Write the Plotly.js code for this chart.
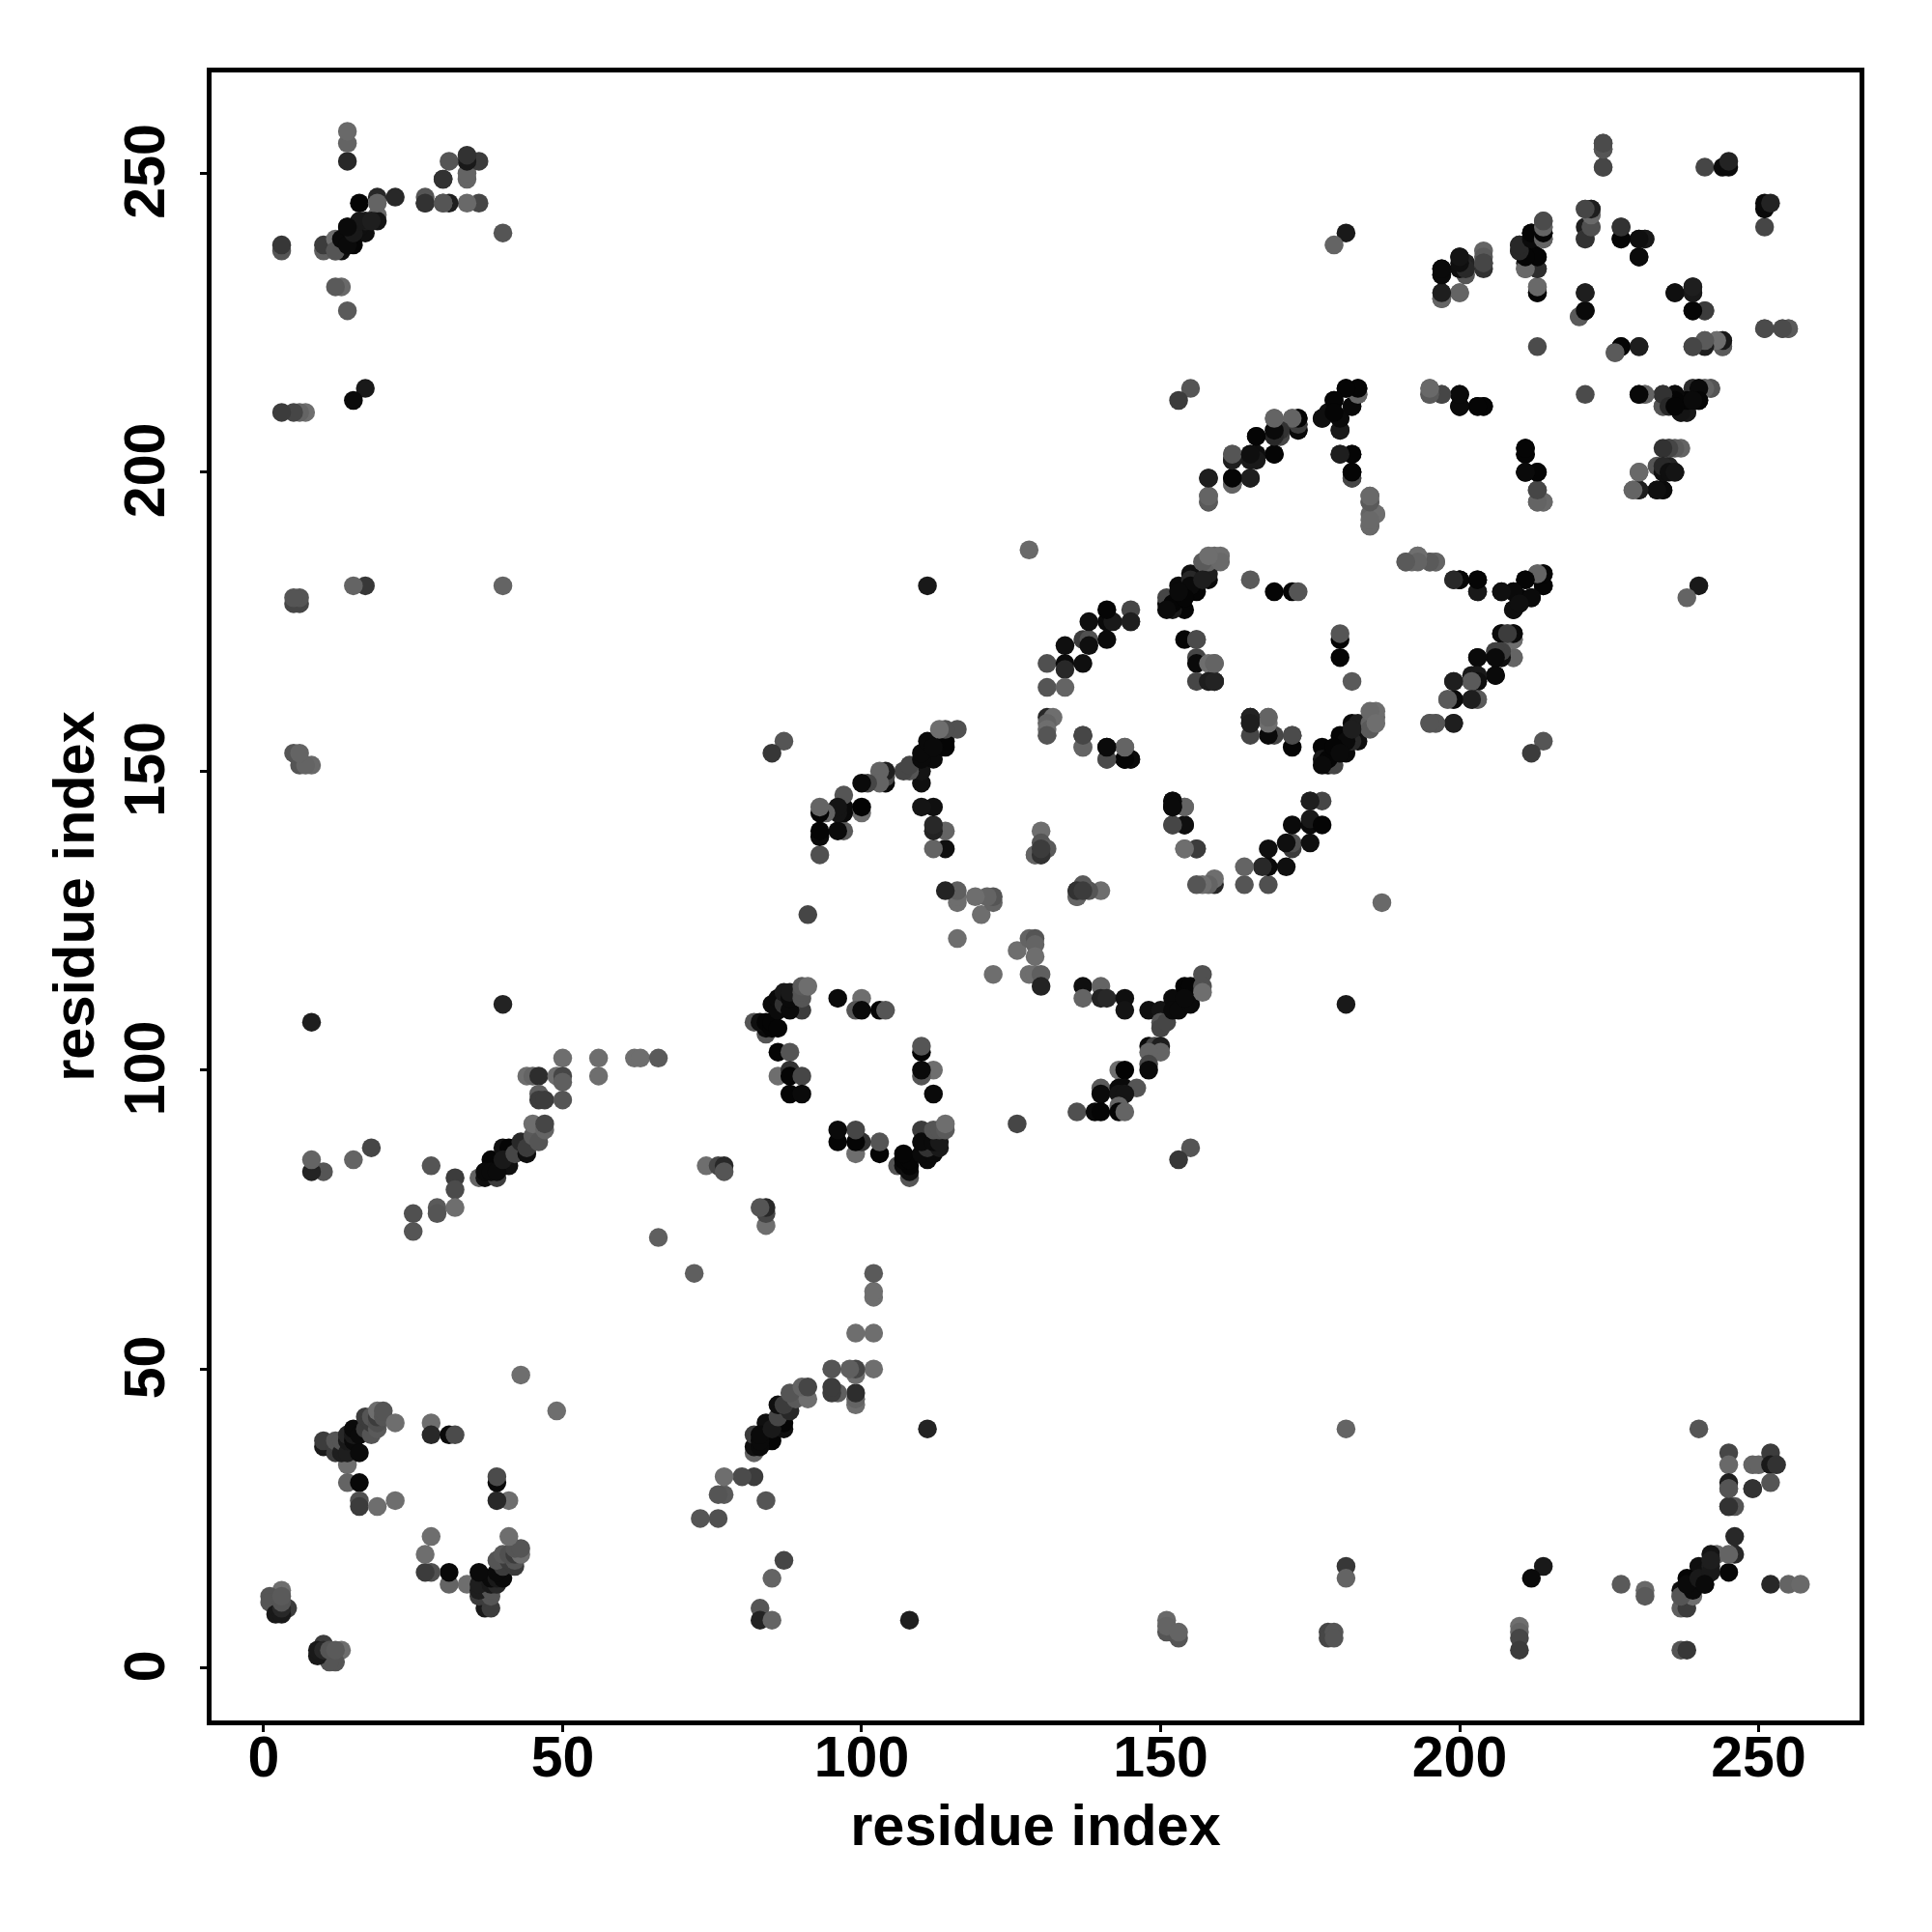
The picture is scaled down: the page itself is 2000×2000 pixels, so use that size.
<!DOCTYPE html>
<html>
<head>
<meta charset="utf-8">
<script src="https://cdn.plot.ly/plotly-3.0.1.min.js"></script>
<style>html,body{margin:0;padding:0;background:#fff}#chart{width:2000px;height:2000px}</style>
</head>
<body>
<div id="chart"></div>
<script>
// Contacts: residue i, residue j (i<j), grey level. The map is symmetric.
const aI=[3,1,1,4,2,3,3,3,3];
const aJ=[13,12,11,10,9,9,10,11,12];
const aG=[110,85,85,60,25,25,40,85,90];

const bI=[14,14,10,10,12,12,12,13,13,14,14,14,15,15,15,16,16,17,17,18,18,18,19,19,19,19,20,20,22,16,16,16,19,22,28,28,31,32,43];
const bJ=[34,31,37,38,36,37,38,36,38,36,38,39,38,39,40,36,39,40,42,39,41,42,40,41,42,43,42,43,41,31,28,27,27,28,41,39,39,39,49];
const bG=[110,100,25,60,60,60,85,30,85,30,25,40,10,25,10,10,10,60,60,85,60,85,90,80,60,110,85,85,110,8,80,60,110,110,110,40,10,75,110];

const cI=[40,28,32,32,29,29,32,25,25,36,37,39,38,40,41,41,37,38,39,40,42,43,44,44,45,46,45,47,47];
const cJ=[111,84,82,80,77,76,77,76,73,82,82,82,85,87,84,87,83,83,83,85,86,88,86,87,89,88,91,90,91];
const cG=[35,85,60,75,90,85,110,80,85,100,15,60,5,15,15,5,10,10,10,25,70,40,15,60,90,85,110,100,70];

const dI=[50,44,45,46,49,50,50,46,46,47,50,56,56,62,63,66,66,74,76,77,77,18,15,10,8,8,8];
const dJ=[102,99,99,99,99,99,98,96,95,95,95,102,99,102,102,102,72,84,84,84,83,87,85,83,83,85,108];
const dG=[110,110,100,45,110,70,95,95,60,60,85,110,110,110,110,90,95,110,70,40,85,70,100,85,35,100,30];

const eI=[82,84,90,84,83,84,85,85,85,86,86,86,87,87,88,88,88,90,90,90,91,86,88,86,88,88,90,88,90,96,100,99,100,103,104];
const eJ=[108,106,110,107,108,108,107,108,111,107,110,112,111,113,110,112,113,112,113,114,114,103,103,99,100,99,99,96,96,112,112,110,110,110,110];
const eG=[85,85,60,10,15,5,5,5,10,5,10,10,50,25,10,10,25,85,85,90,110,5,85,110,50,5,70,5,10,10,110,85,10,5,85];

const fI=[91,116,120,116,116,116,114,122,122,121,119];
const fJ=[126,122,126,128,129,130,130,128,129,129,129];
const fG=[70,110,110,110,110,95,35,100,85,100,110];

const gI=[114,114,112,112,112,112,110,110,110,108,107,108,112,110,114,114,110,111,116,114,113,112,104,104,104,103,103,101,100,100,100,97,96,97,97,97,96,96,93,93,93,94,93,93,87,85];
const gJ=[137,140,137,140,141,144,144,148,150,150,150,151,152,152,154,155,153,155,157,157,157,154,148,149,150,150,148,148,148,143,144,140,140,143,144,146,143,144,136,139,140,143,143,144,155,153];
const gG=[15,100,100,35,40,15,20,15,20,85,70,70,10,10,5,5,10,10,80,80,110,10,10,70,30,100,100,70,10,110,3,90,10,10,10,85,20,20,80,10,5,100,5,100,85,55];

const hI=[134,131,134,134,137,131,134,137,138,138,141,138,141,142,145,131,132,131,131,131,137,137,141,144,141,144,145,145,141];
const hJ=[171,168,168,167,168,164,164,172,172,171,172,175,175,175,175,159,159,158,157,156,156,154,154,154,152,152,152,177,177];
const hG=[15,80,10,40,15,85,100,60,80,15,10,15,10,25,40,40,110,100,110,85,60,110,15,100,70,10,10,70,5];

const kI=[154,156,156,156,158,159,156,158,159,159,158,154,152,151,151,156,158,158,155,153,155,153,158,159,160,157,152,155,157,154,151,153,160,158,165,169,172,173];
const kJ=[172,172,169,168,168,168,165,165,165,165,165,177,177,178,179,180,182,183,183,181,182,179,185,186,186,185,178,181,182,179,177,180,185,186,182,180,180,180];
const kG=[5,75,70,10,110,100,70,40,40,35,30,5,25,10,70,5,10,30,15,10,40,5,100,105,110,90,5,10,30,5,10,10,105,110,90,5,5,85];

const mI=[144,152,152,154,152,154,154,156,145,130,130,129,130,131,129,130,130,128,165,168,172];
const mJ=[152,145,144,144,141,141,137,137,175,140,138,136,136,137,136,136,137,187,159,159,156];
const mG=[10,10,5,100,75,10,100,70,30,110,85,100,40,90,100,50,60,105,35,100,75];

const nI=[155,153,169,172,173,173,173,169,170,170,169,166,169,166,165,165,162,162,162,162,165,158,158,158];
const nJ=[214,212,209,209,209,207,208,207,207,206,206,206,203,203,203,202,203,202,199,198,199,199,196,195];
const nG=[85,60,100,110,10,10,60,15,65,65,10,10,10,25,15,90,90,30,10,90,30,30,85,85];

const pI=[181,183,183,182,179,180,177,178,180,180,182,182,182,185,185,186,185,185,191,193,192,195,196,195,195,197,200,200,203,204,200,199];
const pJ=[214,214,213,211,212,209,209,210,207,203,203,200,199,196,195,193,193,191,185,186,185,185,185,214,213,213,213,211,211,211,182,182];
const pG=[5,5,100,5,10,10,15,15,15,25,5,5,40,100,90,110,100,90,105,110,105,90,105,105,100,70,5,10,5,5,5,70];

const qI=[200,203,203,207,209,211,213,214,214,209,212,210,207,208,209,209,203,206,207,206,207,209,199,198,199,202,203,202,202,203,206,203,195,196,199,211,211,200,211,213,213,213];
const qJ=[182,182,180,180,180,182,183,183,181,177,179,179,173,173,173,172,169,170,170,169,169,169,165,162,162,165,166,166,162,162,166,165,158,158,158,204,203,211,200,200,197,195];
const qG=[5,5,30,25,10,8,100,5,5,15,5,5,10,60,5,100,5,70,50,40,10,100,30,100,5,25,15,25,30,85,5,15,90,100,30,5,5,10,10,10,70,90];

const rI=[214,224,224,224,241,244,245,245,221,222,222,221,222,221,227,227,230,231,230,197,197,197,197,200,200,201,201,200,204,204,204,204];
const rJ=[195,255,254,251,251,251,251,252,244,244,243,241,241,239,241,239,239,239,236,234,233,230,229,236,230,235,233,234,237,236,235,234];
const rG=[105,90,75,75,70,10,10,35,90,25,110,30,90,70,60,5,25,30,15,10,15,30,100,30,105,35,85,15,100,90,70,50];

const sI=[214,214,214,214,212,210,210,212,213,212,211,213,211,213,213,221,221,220,213,226,227,230,236,239,239,239,241,239,241,243,244,244,251,254,255,230,231,234,234,236,236,237,238,239,240,239,240,241,242,201,200,200,235,211,212,230,229,230,233,234];
const sJ=[242,241,239,240,240,238,237,238,236,236,234,234,235,231,230,230,227,226,221,220,221,221,230,231,230,227,227,221,222,222,222,221,224,224,224,213,213,213,211,213,211,210,210,212,212,214,214,214,214,234,235,236,204,236,239,200,197,197,197,197];
const sG=[85,100,45,10,5,25,20,5,10,5,85,50,40,100,8,30,5,90,75,90,10,30,10,25,15,5,50,50,80,105,30,70,70,85,75,5,105,45,105,5,5,40,40,10,5,100,5,100,75,40,15,20,70,5,10,100,100,30,10,10];

const tI=[40,17,15,6,5,6,5,7,6,5,3,17,15,14,13,12,10,10,3,3,36,34,34,34,36,34,34,31,30,31,30,27,27,22,19,19,19,16,17,16,17,15,14,13,12,12,14,14,14,14,19,12,13,14,15,16,18,14,27,30,30,40,181,179,111,8,6,7,5,6];
const tJ=[181,181,181,178,178,179,179,210,210,210,210,214,212,227,231,231,237,238,237,238,245,245,249,250,252,252,253,252,249,245,245,245,246,246,246,243,242,245,240,241,242,238,241,237,239,237,239,252,255,257,245,237,239,238,240,242,242,241,245,245,249,240,240,238,181,151,151,151,153,153];
const tG=[100,55,100,70,70,85,85,110,100,70,60,25,10,90,105,90,95,60,85,55,70,105,100,100,60,25,50,85,50,30,85,60,85,40,40,105,20,5,15,15,30,5,10,15,110,85,10,40,100,105,100,85,10,10,25,25,30,10,50,85,50,85,25,100,25,105,85,100,85,100];

const residueI=[].concat(aI,bI,cI,dI,eI,fI,gI,hI,kI,mI,nI,pI,qI,rI,sI,tI);
const residueJ=[].concat(aJ,bJ,cJ,dJ,eJ,fJ,gJ,hJ,kJ,mJ,nJ,pJ,qJ,rJ,sJ,tJ);
const greyLevel=[].concat(aG,bG,cG,dG,eG,fG,gG,hG,kG,mG,nG,pG,qG,rG,sG,tG);
const tickValues=[0,50,100,150,200,250];
const axisLabel='residue index';

const greys=greyLevel.map(g=>'rgb('+g+','+g+','+g+')');
const trace={
  type:'scatter',mode:'markers',
  x:residueI.concat(residueJ),
  y:residueJ.concat(residueI),
  marker:{size:19.5,color:greys.concat(greys),line:{width:0}},
  hoverinfo:'x+y',showlegend:false
};
const tickFont={family:'"Liberation Sans",Arial,sans-serif',size:59,color:'#000',weight:700};
const titleFont={family:'"Liberation Sans",Arial,sans-serif',size:59.5,color:'#000',weight:700};
function axis(range,extra){
  return Object.assign({
    range:range,tickmode:'array',tickvals:tickValues,ticktext:tickValues.map(String),
    showgrid:false,zeroline:false,showline:true,mirror:true,linewidth:5,linecolor:'#000',
    ticks:'outside',ticklen:7,tickwidth:3,tickcolor:'#000',tickfont:tickFont,automargin:false
  },extra);
}
const layout={
  width:2000,height:2000,paper_bgcolor:'#fff',plot_bgcolor:'#fff',showlegend:false,
  margin:{l:219,r:75,t:75,b:219,pad:0},
  xaxis:axis([-8.72,266.88],{ticklabelstandoff:-25,title:{text:axisLabel,font:titleFont,standoff:19}}),
  yaxis:axis([-8.77,266.85],{tickangle:-90,ticklabelstandoff:13,ticklabelshift:7,title:{text:axisLabel,font:titleFont,standoff:2}})
};
Plotly.newPlot('chart',[trace],layout,{displayModeBar:false,staticPlot:true});
</script>
</body>
</html>
